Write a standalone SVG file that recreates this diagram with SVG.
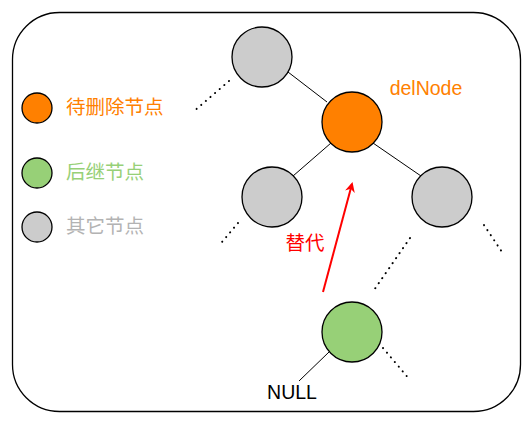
<svg xmlns="http://www.w3.org/2000/svg" width="532" height="421" viewBox="0 0 532 421">
<style>
.node{stroke:#000;stroke-width:1.3}
.edge{stroke:#000;stroke-width:1;fill:none}
.dots{stroke:#000;stroke-width:2;stroke-dasharray:0.1 6;stroke-linecap:round;fill:none}
text{font-family:"Liberation Sans","Noto Sans CJK SC",sans-serif}
.lg{font-size:19.5px;dominant-baseline:central}
</style>
<defs>
<marker id="ah" markerWidth="10" markerHeight="10" refX="8" refY="5" orient="auto" markerUnits="userSpaceOnUse">
<path d="M0,0 L10,5 L0,10 L3,5 Z" fill="#FF0000"/>
</marker>
</defs>
<rect x="12.5" y="12.5" width="508" height="399" rx="47" ry="47" fill="#fff" stroke="#000" stroke-width="1.3"/>
<g id="connectors">
<line class="edge" x1="288" y1="72" x2="327" y2="102"/>
<line class="edge" x1="331" y1="143" x2="293" y2="176"/>
<line class="edge" x1="373" y1="143" x2="421" y2="176"/>
<line class="edge" x1="329" y1="352" x2="299" y2="381"/>
<line class="dots" x1="229" y1="81" x2="193" y2="112"/>
<line class="dots" x1="238" y1="223" x2="222" y2="242"/>
<line class="dots" x1="484" y1="225" x2="502" y2="252"/>
<line class="dots" x1="410" y1="238" x2="372" y2="293"/>
<line class="dots" x1="383" y1="348" x2="410" y2="380"/>
<line x1="323" y1="292" x2="352" y2="184" stroke="#FF0000" stroke-width="2" marker-end="url(#ah)"/>
<text x="305" y="243" font-size="19.5" fill="#FF0000" text-anchor="middle" dominant-baseline="central">替代</text>
</g>
<g id="top"><circle class="node" cx="262" cy="57" r="30" fill="#CCCCCC"/></g>
<g id="delNode"><circle class="node" cx="352" cy="122" r="30" fill="#FF8000"/>
<text x="426" y="95" font-size="19.5" fill="#FF8000" text-anchor="middle">delNode</text></g>
<g id="left"><circle class="node" cx="272" cy="197" r="30" fill="#CCCCCC"/></g>
<g id="right"><circle class="node" cx="442" cy="197" r="30" fill="#CCCCCC"/></g>
<g id="succ"><circle class="node" cx="352" cy="332" r="30" fill="#97D077"/></g>
<g id="null"><text x="292" y="392" font-size="19.5" fill="#000" text-anchor="middle" dominant-baseline="central">NULL</text></g>
<g id="legend-del"><circle class="node" cx="37" cy="108" r="15" fill="#FF8000"/><text class="lg" x="66" y="107" fill="#FF8000">待删除节点</text></g>
<g id="legend-succ"><circle class="node" cx="37" cy="173" r="15" fill="#97D077"/><text class="lg" x="66" y="172" fill="#97D077">后继节点</text></g>
<g id="legend-other"><circle class="node" cx="37" cy="227" r="15" fill="#CCCCCC"/><text class="lg" x="66" y="226" fill="#B3B3B3">其它节点</text></g>
</svg>
